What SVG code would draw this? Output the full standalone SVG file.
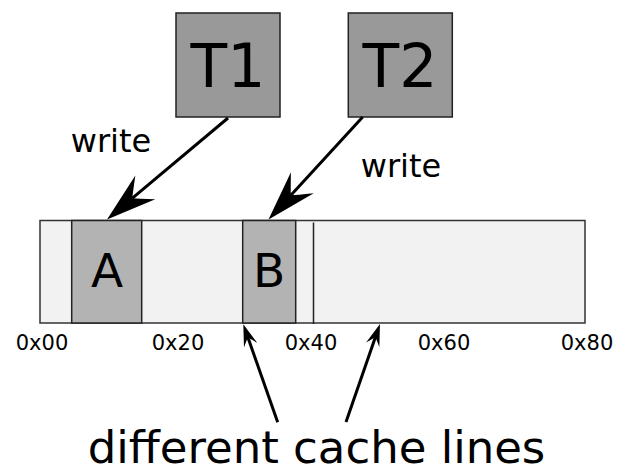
<svg xmlns="http://www.w3.org/2000/svg" width="618" height="474" viewBox="0 0 618 474">
  <style>
    text { font-family: "DejaVu Sans", "Liberation Sans", sans-serif; fill: #000; }
    .thread { fill: #999999; stroke: #222; stroke-width: 1.5; }
    .var { fill: #b3b3b3; stroke: #222; stroke-width: 1.5; }
    .mem { fill: #f2f2f2; stroke: #333; stroke-width: 1.5; }
    .addr { font-size: 21px; text-anchor: middle; }
    .lbl { font-size: 32px; text-anchor: middle; }
    .conn { stroke: #000; stroke-width: 3; fill: none; }
  </style>
  <defs>
    <marker id="headL" markerUnits="userSpaceOnUse" viewBox="-52 -17 54 34" refX="-30" refY="0" markerWidth="54" markerHeight="34" orient="auto" overflow="visible">
      <path d="M0,0 L-50,-15.5 Q-37,-4 -33,0 Q-37,4 -50,15.5 Z" fill="#000"/>
    </marker>
    <marker id="headS" markerUnits="userSpaceOnUse" viewBox="-24 -9 26 18" refX="-13" refY="0" markerWidth="26" markerHeight="18" orient="auto" overflow="visible">
      <path d="M0,0 L-22,-7 Q-16,-2 -14,0 Q-16,2 -22,7 Z" fill="#000"/>
    </marker>
  </defs>

  <!-- memory range 0x00..0x80 -->
  <g id="memory">
    <rect class="mem" x="40" y="220.5" width="545" height="102.5"/>
    <line x1="313.5" y1="222.5" x2="313.5" y2="324" stroke="#222" stroke-width="1.5"/>
  </g>

  <g id="var-a">
    <rect class="var" x="71.7" y="220.5" width="70" height="102.5"/>
    <text x="107" y="287" font-size="47" text-anchor="middle">A</text>
  </g>

  <g id="var-b">
    <rect class="var" x="242.7" y="220.5" width="53" height="102.5"/>
    <text x="269" y="287" font-size="47" text-anchor="middle">B</text>
  </g>

  <g id="thread-t1">
    <rect class="thread" x="176" y="13" width="104" height="104"/>
    <text x="228" y="87" font-size="60" text-anchor="middle">T1</text>
  </g>

  <g id="thread-t2">
    <rect class="thread" x="348.3" y="13" width="104" height="104"/>
    <text x="400" y="87" font-size="60" text-anchor="middle">T2</text>
  </g>

  <!-- address ticks -->
  <g id="addresses">
    <text class="addr" x="42" y="350">0x00</text>
    <text class="addr" x="178" y="350">0x20</text>
    <text class="addr" x="311" y="350">0x40</text>
    <text class="addr" x="444" y="350">0x60</text>
    <text class="addr" x="587" y="350">0x80</text>
  </g>

  <g id="connectors">
    <path class="conn" d="M228,118 L130,200.2" marker-end="url(#headL)"/>
    <path class="conn" d="M362.7,117 L288.8,197.5" marker-end="url(#headL)"/>
    <path class="conn" d="M277.7,422.3 L247.6,336.6" marker-end="url(#headS)"/>
    <path class="conn" d="M346,422 L375.7,336.3" marker-end="url(#headS)"/>
  </g>

  <g id="labels">
    <text class="lbl" x="111" y="152">write</text>
    <text class="lbl" x="401" y="177">write</text>
    <text x="316.5" y="463" font-size="45" text-anchor="middle">different cache lines</text>
  </g>
</svg>
